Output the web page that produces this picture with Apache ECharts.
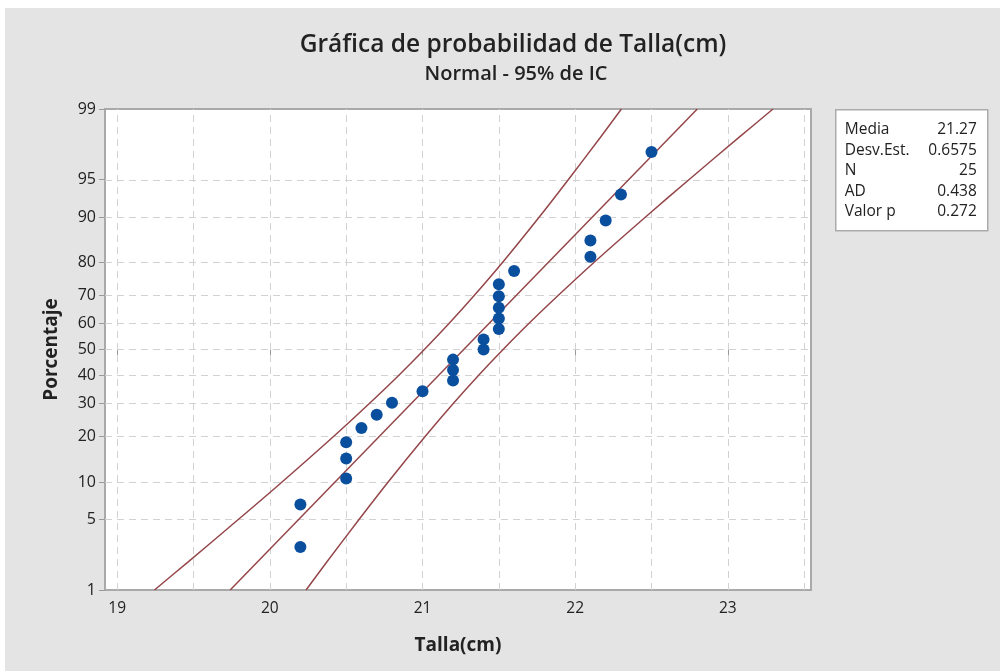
<!DOCTYPE html>
<html>
<head>
<meta charset="utf-8">
<script src="https://cdn.jsdelivr.net/npm/echarts@6/dist/echarts.min.js"></script>
<style>
html,body{margin:0;padding:0;background:#ffffff;}
#main{position:absolute;left:5px;top:8px;width:995px;height:663px;background:#e4e4e4;}
</style>
</head>
<body>
<div id="main"></div>
<script>
// ---- data ----
var talla = [20.2, 20.2, 20.5, 20.5, 20.5, 20.6, 20.7, 20.8, 21.0, 21.2, 21.2, 21.2, 21.4, 21.4, 21.5, 21.5, 21.5, 21.5, 21.5, 21.6, 22.1, 22.1, 22.2, 22.3, 22.5];
var pctPoints = [2.8, 6.7, 10.6, 14.6, 18.5, 22.4, 26.4, 30.3, 34.3, 38.2, 42.1, 46.1, 50.0, 53.9, 57.9, 61.8, 65.7, 69.7, 73.6, 77.6, 81.5, 85.4, 89.4, 93.3, 97.2];
var fitX = [19.74, 22.80];
var fitPct = [1, 99];
var bandPct = [1, 2, 5, 10, 20, 30, 40, 50, 60, 70, 80, 90, 95, 98, 99];
var bandLowX = [19.244, 19.465, 19.793, 20.080, 20.417, 20.650, 20.842, 21.012, 21.175, 21.340, 21.524, 21.765, 21.956, 22.166, 22.303];
var bandHighX = [20.237, 20.374, 20.584, 20.775, 21.017, 21.200, 21.365, 21.528, 21.698, 21.890, 22.123, 22.461, 22.747, 23.075, 23.296];
var yTicks = [1, 5, 10, 20, 30, 40, 50, 60, 70, 80, 90, 95, 99];
var xTicks = [19, 20, 21, 22, 23];
var xGrid = [19, 19.5, 20, 20.5, 21, 21.5, 22, 22.5, 23, 23.5];
var statLabels = ['Media', 'Desv.Est.', 'N', 'AD', 'Valor p'];
var statValues = ['21.27', '0.6575', '25', '0.438', '0.272'];

// ---- normal probability scale transform ----
function probit(pc) {
  var p = pc / 100;
  var a = [-3.969683028665376e+01, 2.209460984245205e+02, -2.759285104469687e+02, 1.383577518672690e+02, -3.066479806614716e+01, 2.506628277816508e+00];
  var b = [-5.447609879822406e+01, 1.615858368580409e+02, -1.556989798598866e+02, 6.680131188771972e+01, -1.328068155288572e+01];
  var c = [-7.784894002430293e-03, -3.223964580411365e-01, -2.400758277161838e+00, -2.549732539343734e+00, 4.374664141464968e+00, 2.938163982698783e+00];
  var d = [7.784695709041462e-03, 3.224671290700398e-01, 2.445134137142996e+00, 3.754408181268117e+00];
  var plow = 0.02425, q, r;
  if (p < plow) {
    q = Math.sqrt(-2 * Math.log(p));
    return (((((c[0]*q+c[1])*q+c[2])*q+c[3])*q+c[4])*q+c[5]) / ((((d[0]*q+d[1])*q+d[2])*q+d[3])*q+1);
  } else if (p <= 1 - plow) {
    q = p - 0.5; r = q * q;
    return (((((a[0]*r+a[1])*r+a[2])*r+a[3])*r+a[4])*r+a[5])*q / (((((b[0]*r+b[1])*r+b[2])*r+b[3])*r+b[4])*r+1);
  } else {
    q = Math.sqrt(-2 * Math.log(1 - p));
    return -(((((c[0]*q+c[1])*q+c[2])*q+c[3])*q+c[4])*q+c[5]) / ((((d[0]*q+d[1])*q+d[2])*q+d[3])*q+1);
  }
}
var zToPct = {};
var yTickZ = yTicks.map(function (t) { var z = probit(t); zToPct[z.toFixed(6)] = t; return z; });

function pairs(xs, ps) { return xs.map(function (x, i) { return [x, probit(ps[i])]; }); }

var chart = echarts.init(document.getElementById('main'), null, {renderer: 'canvas'});
var font = '"Open Sans", "Noto Sans", sans-serif';
var lineColor = '#94464a';

var option = {
  backgroundColor: '#e4e4e4',
  animation: false,
  textStyle: {fontFamily: font},
  title: [{
    text: 'Gráfica de probabilidad de Talla(cm)',
    left: 503, top: 20, textAlign: 'center',
    textStyle: {fontFamily: font, fontSize: 24.5, fontWeight: 600, color: '#222'}
  }, {
    text: 'Normal - 95% de IC',
    left: 506, top: 51, textAlign: 'center',
    textStyle: {fontFamily: font, fontSize: 20, fontWeight: 600, color: '#222'}
  }],
  grid: {
    left: 100, top: 101, right: 189, bottom: 81,
    show: true, backgroundColor: '#ffffff', borderColor: '#a9a9a9', borderWidth: 2
  },
  xAxis: {
    type: 'value', min: 18.92, max: 23.545,
    name: 'Talla(cm)', nameLocation: 'middle', nameGap: 46,
    nameTextStyle: {fontFamily: font, fontSize: 19, fontWeight: 'bold', color: '#222'},
    axisLine: {show: false},
    axisTick: {show: true, customValues: xTicks, length: 6, lineStyle: {color: '#9a9a9a'}},
    axisLabel: {customValues: xTicks, fontSize: 15.5, color: '#222', margin: 11, fontFamily: font},
    splitLine: {show: false}
  },
  yAxis: {
    type: 'value', min: probit(1), max: probit(99),
    name: 'Porcentaje', nameLocation: 'middle', nameGap: 44,
    nameTextStyle: {fontFamily: font, fontSize: 19, fontWeight: 'bold', color: '#222'},
    axisLine: {show: false},
    axisTick: {show: true, customValues: yTickZ, length: 6, lineStyle: {color: '#9a9a9a'}},
    axisLabel: {
      customValues: yTickZ, fontSize: 16, color: '#222', margin: 9, fontFamily: font,
      formatter: function (v) { var k = v.toFixed(6); return zToPct[k] !== undefined ? String(zToPct[k]) : ''; }
    },
    splitLine: {show: false}
  },
  series: [
    {
      type: 'line', data: [], z: 1, silent: true,
      markLine: {
        silent: true, symbol: ['none', 'none'], animation: false, z: 1,
        label: {show: false},
        lineStyle: {color: '#d2d2d2', type: [7, 5], width: 1},
        data: yTickZ.slice(1, yTickZ.length - 1).map(function (z) { return {yAxis: z}; })
          .concat(xGrid.map(function (x) { return {xAxis: x}; }))
      }
    },
    {
      type: 'line', data: pairs(bandLowX, bandPct), smooth: 0.3,
      symbol: 'none', z: 2, lineStyle: {color: lineColor, width: 1.5}
    },
    {
      type: 'line', data: pairs(bandHighX, bandPct), smooth: 0.3,
      symbol: 'none', z: 2, lineStyle: {color: lineColor, width: 1.5}
    },
    {
      type: 'line', data: pairs(fitX, fitPct),
      symbol: 'none', z: 2, lineStyle: {color: lineColor, width: 1.5}
    },
    {
      type: 'scatter', data: pairs(talla, pctPoints), z: 5,
      symbol: 'circle', symbolSize: 12,
      itemStyle: {color: '#0a4f9e', opacity: 1}
    }
  ],
  graphic: [{
    type: 'group', left: 830, top: 101,
    children: [
      {type: 'rect', shape: {x: 0, y: 0, width: 152, height: 121},
       style: {fill: '#ffffff', stroke: '#ababab', lineWidth: 1.5}}
    ].concat(statLabels.map(function (s, i) {
      return {type: 'text', x: 9, y: 20 + i * 20.5,
        style: {text: s, fill: '#222', font: '15.5px ' + font, textVerticalAlign: 'middle', textAlign: 'left'}};
    })).concat(statValues.map(function (s, i) {
      return {type: 'text', x: 141, y: 20 + i * 20.5,
        style: {text: s, fill: '#222', font: '15.5px ' + font, textVerticalAlign: 'middle', textAlign: 'right'}};
    }))
  }]
};
chart.setOption(option);
</script>
</body>
</html>
